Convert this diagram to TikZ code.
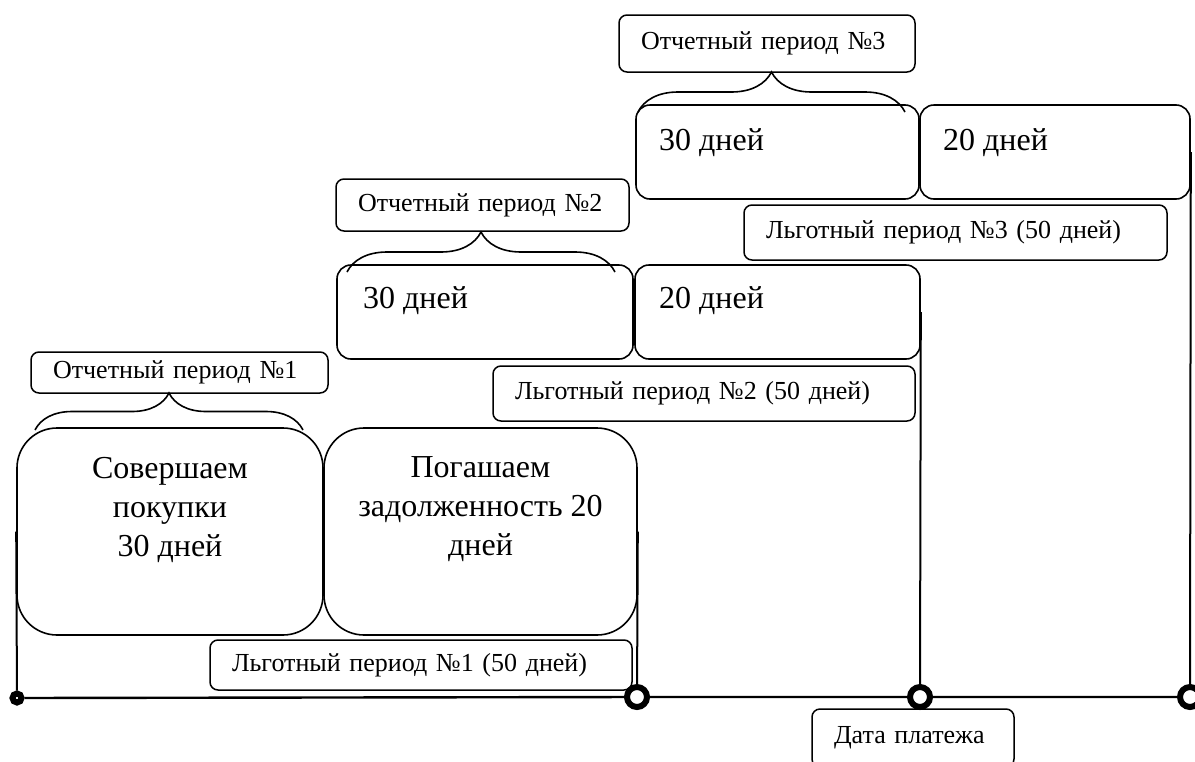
\documentclass[tikz,border=0pt]{standalone}
\usepackage{fontspec}
\setmainfont{Liberation Serif}
\usetikzlibrary{decorations.pathreplacing}
\newcommand{\bigtxt}{\fontsize{32}{39}\selectfont}
\newcommand{\tagtxt}{\fontsize{26}{30}\selectfont}

\begin{document}
\begin{tikzpicture}[x=1pt,y=-1pt,
  bigbox/.style={draw,line width=1.6pt,rounded corners=40pt,minimum height=207pt},
  daybox/.style={draw,line width=1.6pt,rounded corners=14pt,minimum height=94pt},
  daytxt/.style={font=\bigtxt,inner sep=0pt,anchor=base west},
  tagbox/.style={draw,line width=1.5pt,rounded corners=8pt,inner xsep=22pt,inner ysep=0pt,align=left,font=\tagtxt},
  brc/.style={decorate,decoration={brace,amplitude=#1},line width=1.6pt},
  ring/.style={circle,draw,fill=white,line width=6pt,minimum size=20pt,inner sep=0pt}]
\useasboundingbox (0,0) rectangle (1195,761);

\node[bigbox,minimum width=306pt] (buy) at (170,531.5) {};
\node[bigbox,minimum width=313pt] (repay) at (480.5,531.5) {};
\node[align=center,font=\bigtxt,inner sep=0pt] (buytxt) at (170,509.5) {Совершаем\\покупки\\30 дней};
\node[align=center,font=\bigtxt,inner sep=0pt] (repaytxt) at (480.5,509.5) {Погашаем\\задолженность 20\\дней};
\node[tagbox,text width=253pt,minimum height=41pt] (rep1) at (179.5,372.5) {Отчетный период №1};
\node[tagbox,text width=378pt,minimum height=50pt] (grace1) at (421,665) {Льготный период №1 (50 дней)};
\coordinate (br1l) at (35,430);
\coordinate (br1r) at (303,430);
\draw[brc=37pt] (br1l) -- (br1r);

\node[daybox,minimum width=296pt] (buy2) at (485,312) {};
\node[daybox,minimum width=285pt] (repay2) at (777.5,312) {};
\node[daytxt] (buy2txt) at (363,308) {30 дней};
\node[daytxt] (repay2txt) at (659,308) {20 дней};
\node[tagbox,text width=249pt,minimum height=52pt] (rep2) at (482.5,205) {Отчетный период №2};
\node[tagbox,text width=378pt,minimum height=55pt] (grace2) at (704,393.5) {Льготный период №2 (50 дней)};
\coordinate (br2l) at (347,272);
\coordinate (br2r) at (615,272);
\draw[brc=40pt] (br2l) -- (br2r);

\node[daybox,minimum width=283pt] (buy3) at (777.5,152) {};
\node[daybox,minimum width=270pt] (repay3) at (1055,152) {};
\node[daytxt] (buy3txt) at (659,150) {30 дней};
\node[daytxt] (repay3txt) at (943,150) {20 дней};
\node[tagbox,text width=252pt,minimum height=57pt] (rep3) at (767,43.5) {Отчетный период №3};
\node[tagbox,text width=379pt,minimum height=55pt] (grace3) at (955.5,232.5) {Льготный период №3 (50 дней)};
\coordinate (br3l) at (638,112);
\coordinate (br3r) at (905,112);
\draw[brc=40pt] (br3l) -- (br3r);

\node[circle,draw,fill=white,line width=6pt,minimum size=9pt,inner sep=0pt] (d0) at (17,698) {};
\node[ring] (c1) at (637,697) {};
\node[ring] (c2) at (920,697) {};
\node[ring] (c3) at (1190,697) {};
\coordinate (tail) at (1215,697);
\draw[line width=2.4pt] (d0) -- (c1) -- (c2) -- (c3) -- (tail);
\draw[line width=2pt] (buy.west) -- (d0);
\draw[line width=2pt] (repay.east) -- (c1);
\draw[line width=2pt] (repay2.east) -- (c2);
\draw[line width=2pt] (repay3.east) -- (c3);
\node[tagbox,text width=158pt,minimum height=58pt] (paydate) at (913,738) {Дата платежа};
\end{tikzpicture}
\end{document}
